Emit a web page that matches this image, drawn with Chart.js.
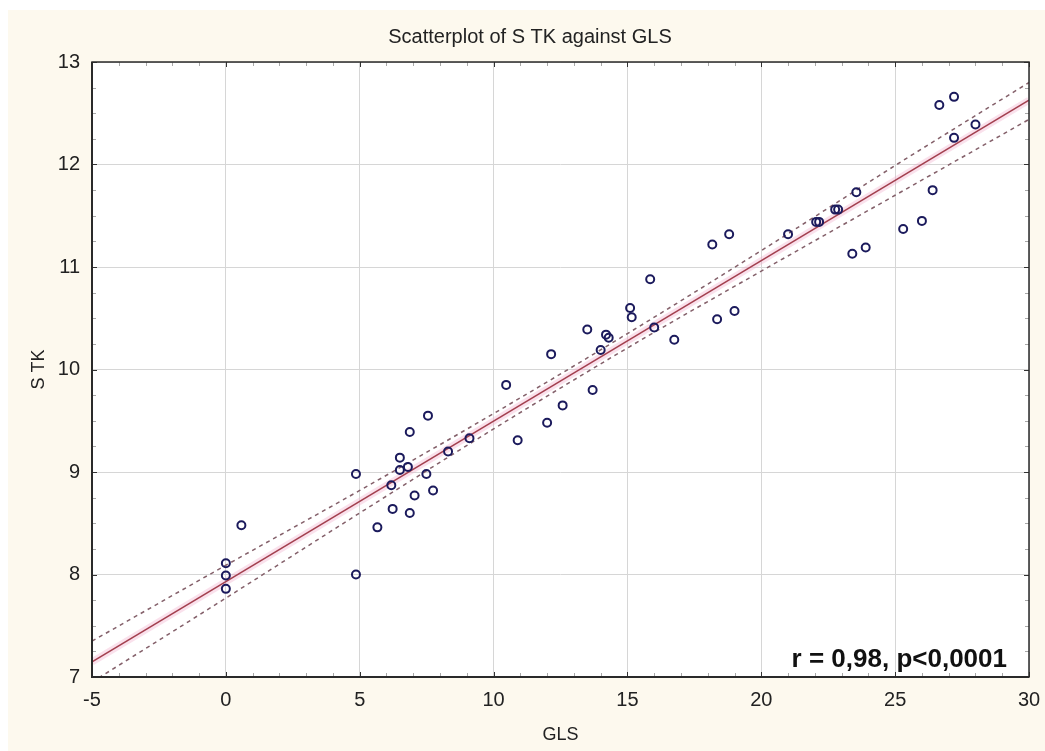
<!DOCTYPE html>
<html>
<head>
<meta charset="utf-8">
<script src="https://cdn.jsdelivr.net/npm/chart.js@4.4.1/dist/chart.umd.min.js"></script>
<style>
  html, body { margin: 0; padding: 0; background: #ffffff; }
  canvas { display: block; }
</style>
</head>
<body>
<canvas id="c" width="1045" height="751"></canvas>
<script>
// ---- data ----
const GLS = [0, 0, 0, 0.58, 4.86, 4.86, 5.66, 6.18, 6.23, 6.5, 6.5, 6.8, 6.87, 6.87, 7.05, 7.49, 7.55, 7.74, 8.3, 9.1,
             10.47, 10.9, 12.0, 12.15, 12.58, 13.5, 13.7, 14.0, 14.2, 14.3, 15.1, 15.16, 15.85, 16.0, 16.75,
             18.17, 18.35, 18.8, 19.0, 21.0, 22.05, 22.16, 22.76, 22.87, 23.4, 23.55, 23.9, 25.3, 26.0, 26.4,
             26.65, 27.2, 27.2, 28.0];
const STK = [8.11, 7.99, 7.86, 8.48, 8.98, 8.00, 8.46, 8.87, 8.64, 9.14, 9.02, 9.05, 9.39, 8.60, 8.77, 8.98, 9.55, 8.82, 9.20, 9.33,
             9.85, 9.31, 9.48, 10.15, 9.65, 10.39, 9.80, 10.19, 10.34, 10.31, 10.60, 10.51, 10.88, 10.41, 10.29,
             11.22, 10.49, 11.32, 10.57, 11.32, 11.44, 11.44, 11.56, 11.56, 11.13, 11.73, 11.19, 11.37, 11.45, 11.75,
             12.58, 12.66, 12.26, 12.39];
const fitX   = [-5, 30];
const fitY   = [7.147, 12.628];
const bandX  = [-5, 0, 5, 10, 15, 20, 25, 30];
const upperY = [7.35, 8.09, 8.82, 9.57, 10.35, 11.16, 11.99, 12.80];
const lowerY = [6.95, 7.77, 8.60, 9.42, 10.21, 10.96, 11.70, 12.44];
const xTicks = [-5, 0, 5, 10, 15, 20, 25, 30];
const yTicks = [7, 8, 9, 10, 11, 12, 13];
const titleText = 'Scatterplot of S TK against GLS';
const xTitle = 'GLS';
const yTitle = 'S TK';
const statText = 'r = 0,98, p<0,0001';

const pts = GLS.map((x, i) => ({x: x, y: STK[i]}));
const fitPts = fitX.map((x, i) => ({x: x, y: fitY[i]}));
const upPts = bandX.map((x, i) => ({x: x, y: upperY[i]}));
const loPts = bandX.map((x, i) => ({x: x, y: lowerY[i]}));

const FONT = "'Liberation Sans', Arial, sans-serif";

const decor = {
  id: 'decor',
  beforeDraw(chart) {
    const ctx = chart.ctx, a = chart.chartArea;
    ctx.save();
    ctx.fillStyle = '#ffffff';
    ctx.fillRect(0, 0, chart.width, chart.height);
    ctx.fillStyle = '#fdf9ee';
    ctx.fillRect(8, 10, chart.width - 8, chart.height - 10);
    ctx.fillStyle = '#ffffff';
    ctx.fillRect(a.left, a.top, a.right - a.left, a.bottom - a.top);
    // title
    ctx.font = '20px ' + FONT;
    ctx.fillStyle = '#222222';
    ctx.textAlign = 'center';
    ctx.textBaseline = 'middle';
    ctx.fillText(titleText, 530, 37);
    ctx.restore();
  },
  afterDatasetsDraw(chart) {
    const ctx = chart.ctx, a = chart.chartArea;
    const xs = chart.scales.x, ys = chart.scales.y;
    ctx.save();
    // minor ticks
    ctx.strokeStyle = '#a8a8a8';
    ctx.lineWidth = 1;
    ctx.beginPath();
    for (let v = -5; v <= 30; v += 1) {
      if (v % 5 === 0) continue;
      const px = Math.round(xs.getPixelForValue(v)) + 0.5;
      ctx.moveTo(px, a.bottom); ctx.lineTo(px, a.bottom - 4);
      ctx.moveTo(px, a.top); ctx.lineTo(px, a.top + 4);
    }
    for (let k = 0; k <= 24; k++) {
      if (k % 4 === 0) continue;
      const v = 7 + k * 0.25;
      const py = Math.round(ys.getPixelForValue(v)) + 0.5;
      ctx.moveTo(a.left, py); ctx.lineTo(a.left + 4, py);
      ctx.moveTo(a.right, py); ctx.lineTo(a.right - 4, py);
    }
    ctx.stroke();
    // major ticks
    ctx.strokeStyle = '#333333';
    ctx.beginPath();
    xTicks.forEach(v => {
      const px = Math.round(xs.getPixelForValue(v)) + 0.5;
      ctx.moveTo(px, a.bottom); ctx.lineTo(px, a.bottom - 5);
      ctx.moveTo(px, a.top); ctx.lineTo(px, a.top + 5);
    });
    yTicks.forEach(v => {
      const py = Math.round(ys.getPixelForValue(v)) + 0.5;
      ctx.moveTo(a.left, py); ctx.lineTo(a.left + 5, py);
      ctx.moveTo(a.right, py); ctx.lineTo(a.right - 5, py);
    });
    ctx.stroke();
    // frame
    ctx.strokeStyle = '#2a2a2a';
    ctx.lineWidth = 1.5;
    ctx.strokeRect(a.left, a.top, a.right - a.left, a.bottom - a.top);
    ctx.lineWidth = 2;
    ctx.beginPath();
    ctx.moveTo(a.left, a.top); ctx.lineTo(a.left, a.bottom); ctx.lineTo(a.right, a.bottom);
    ctx.stroke();
    // stat annotation
    ctx.font = 'bold 26px ' + FONT;
    ctx.fillStyle = '#111111';
    ctx.textAlign = 'right';
    ctx.textBaseline = 'alphabetic';
    ctx.fillText(statText, a.right - 22, a.bottom - 10);
    ctx.restore();
  }
};

new Chart(document.getElementById('c'), {
  type: 'scatter',
  data: {
    datasets: [
      { label: 'points', data: pts, order: 0,
        pointStyle: 'circle', pointRadius: 4, pointBorderWidth: 2,
        pointBorderColor: '#1b1a5c', pointBackgroundColor: 'rgba(255,255,255,0)',
        pointHoverRadius: 4 },
      { label: 'fit', data: fitPts, order: 1, showLine: true, pointRadius: 0,
        borderColor: '#a3404f', borderWidth: 1.6 },
      { label: 'halo', data: fitPts, order: 3, showLine: true, pointRadius: 0,
        borderColor: 'rgba(240,170,200,0.35)', borderWidth: 7 },
      { label: 'upper', data: upPts, order: 2, showLine: true, pointRadius: 0,
        borderColor: '#84606a', borderWidth: 1.5, borderDash: [4, 4], cubicInterpolationMode: 'monotone' },
      { label: 'lower', data: loPts, order: 2, showLine: true, pointRadius: 0,
        borderColor: '#84606a', borderWidth: 1.5, borderDash: [4, 4], cubicInterpolationMode: 'monotone' }
    ]
  },
  options: {
    responsive: false,
    animation: false,
    layout: { padding: { top: 62, right: 16, bottom: 0, left: 0 } },
    plugins: {
      legend: { display: false },
      tooltip: { enabled: false },
      title: { display: false }
    },
    scales: {
      x: {
        type: 'linear', min: -5, max: 30,
        afterBuildTicks: s => { s.ticks = xTicks.map(v => ({value: v})); },
        afterFit: s => { s.height = 74; s.paddingRight = 0; s.paddingLeft = 0; },
        grid: { color: '#d6d6d6', lineWidth: 1, drawTicks: false },
        border: { display: false },
        ticks: { color: '#222222', padding: 11, font: { family: FONT, size: 20 }, maxRotation: 0 },
        title: { display: true, text: xTitle, color: '#222222',
                 font: { family: FONT, size: 18 }, padding: { top: 0, bottom: 5 } }
      },
      y: {
        type: 'linear', min: 7, max: 13,
        afterBuildTicks: s => { s.ticks = yTicks.map(v => ({value: v})); },
        afterFit: s => { s.width = 92; s.paddingTop = 0; s.paddingBottom = 0; },
        grid: { color: '#d6d6d6', lineWidth: 1, drawTicks: false },
        border: { display: false },
        ticks: { color: '#222222', padding: 12, font: { family: FONT, size: 20 } },
        title: { display: true, text: yTitle, color: '#222222',
                 font: { family: FONT, size: 18 }, padding: { top: 28, bottom: 0 } }
      }
    }
  },
  plugins: [decor]
});
</script>
</body>
</html>
